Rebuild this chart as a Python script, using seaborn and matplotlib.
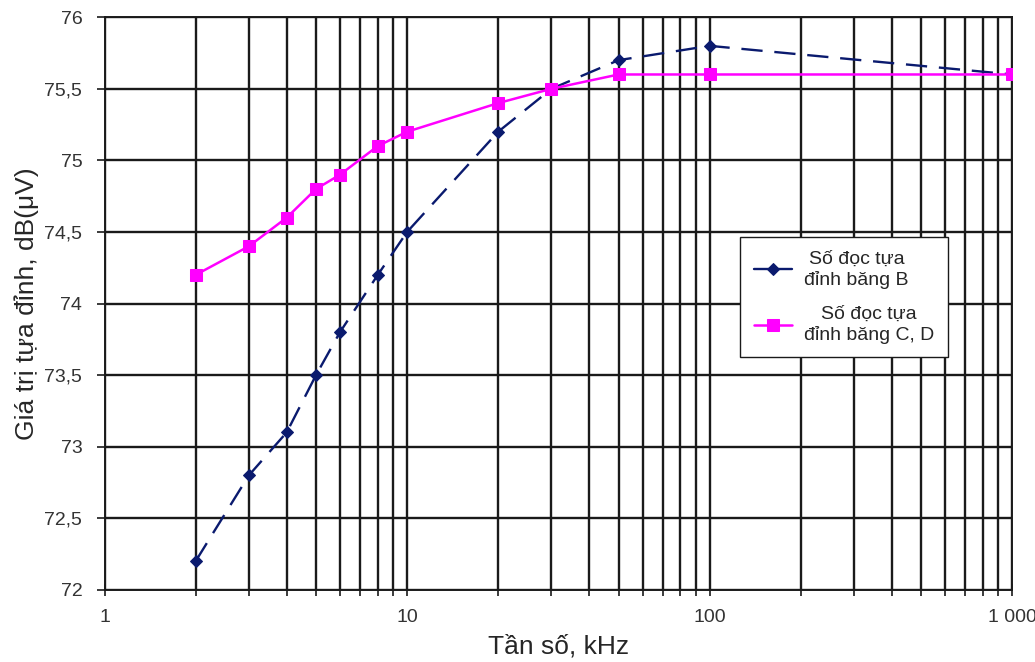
import matplotlib
matplotlib.use("Agg")
import matplotlib.pyplot as plt
import matplotlib.ticker as mticker
import seaborn as sns
import pandas as pd

freq = [2, 3, 4, 5, 6, 8, 10, 20, 30, 50, 100, 1000]
band_b = [72.2, 72.8, 73.1, 73.5, 73.8, 74.2, 74.5, 75.2, 75.5, 75.7, 75.8, 75.6]
band_cd = [74.2, 74.4, 74.6, 74.8, 74.9, 75.1, 75.2, 75.4, 75.5, 75.6, 75.6, 75.6]
label_b = "Số đọc tựa\nđỉnh băng B"
label_cd = "Số đọc tựa\nđỉnh băng C, D"
xlabel = "Tần số, kHz"
ylabel = "Giá trị tựa đỉnh, dB(μV)"
yticks = [72, 72.5, 73, 73.5, 74, 74.5, 75, 75.5, 76]
xticks = [1, 10, 100, 1000]
xticklabels = ["1", "10", "100", "1 000"]

sns.set_theme(style="white")
plt.rcParams['font.family'] = ['Liberation Sans', 'DejaVu Sans']

df_b = pd.DataFrame({"f": freq, "v": band_b})
df_cd = pd.DataFrame({"f": freq, "v": band_cd})

fig = plt.figure(figsize=(10.35, 6.62), dpi=100)
ax = fig.add_axes([0.101, 0.109, 0.877, 0.865])

sns.lineplot(data=df_b, x="f", y="v", ax=ax, color="#0a1a6e", lw=1.7,
             marker="D", markersize=6, markeredgecolor="#0a1a6e",
             label=label_b, zorder=4)
ax.lines[-1].set_dashes([9, 5])
sns.lineplot(data=df_cd, x="f", y="v", ax=ax, color="#ff00ff", lw=1.8,
             marker="s", markersize=9, markeredgecolor="#ff00ff",
             label=label_cd, zorder=5)

ax.set_xscale("log")
ax.set_xlim(1, 1000)
ax.set_ylim(72, 76)
ax.set_yticks(yticks)
ax.set_yticklabels([("%g" % t).replace(".", ",") for t in yticks])
ax.set_xticks(xticks)
ax.set_xticklabels(xticklabels)
ax.xaxis.set_minor_locator(mticker.LogLocator(base=10, subs=range(2, 10)))
ax.xaxis.set_minor_formatter(mticker.NullFormatter())

ax.grid(True, which="both", axis="x", color="#1a1a1a", lw=1.7)
ax.grid(True, which="major", axis="y", color="#1a1a1a", lw=1.7)
ax.set_axisbelow(True)

for s in ax.spines.values():
    s.set_color("#1a1a1a")
    s.set_linewidth(1.4)

ax.tick_params(axis="y", which="major", direction="out", length=6, width=1.2,
               color="#1a1a1a", labelsize=14, labelcolor="#333333", pad=10, left=True)
ax.tick_params(axis="x", which="both", direction="inout", length=8, width=1.2,
               color="#1a1a1a", labelsize=14, labelcolor="#333333", pad=10, bottom=True)

ax.set_xlabel(xlabel, fontsize=19, labelpad=6)
ax.set_ylabel(ylabel, fontsize=19, labelpad=4)

leg = ax.legend(loc="upper left", bbox_to_anchor=(0.70, 0.616), fontsize=14,
                frameon=True, fancybox=False, edgecolor="#1a1a1a", borderaxespad=0,
                framealpha=1, handlelength=2.0, handletextpad=0.6,
                labelspacing=0.9, borderpad=0.7)
leg.get_frame().set_linewidth(1.0)
for h in leg.legend_handles:
    h.set_linestyle("-")
for t in leg.get_texts():
    t.set_ha("center")

fig.savefig("out.png", dpi=100, facecolor="white")
